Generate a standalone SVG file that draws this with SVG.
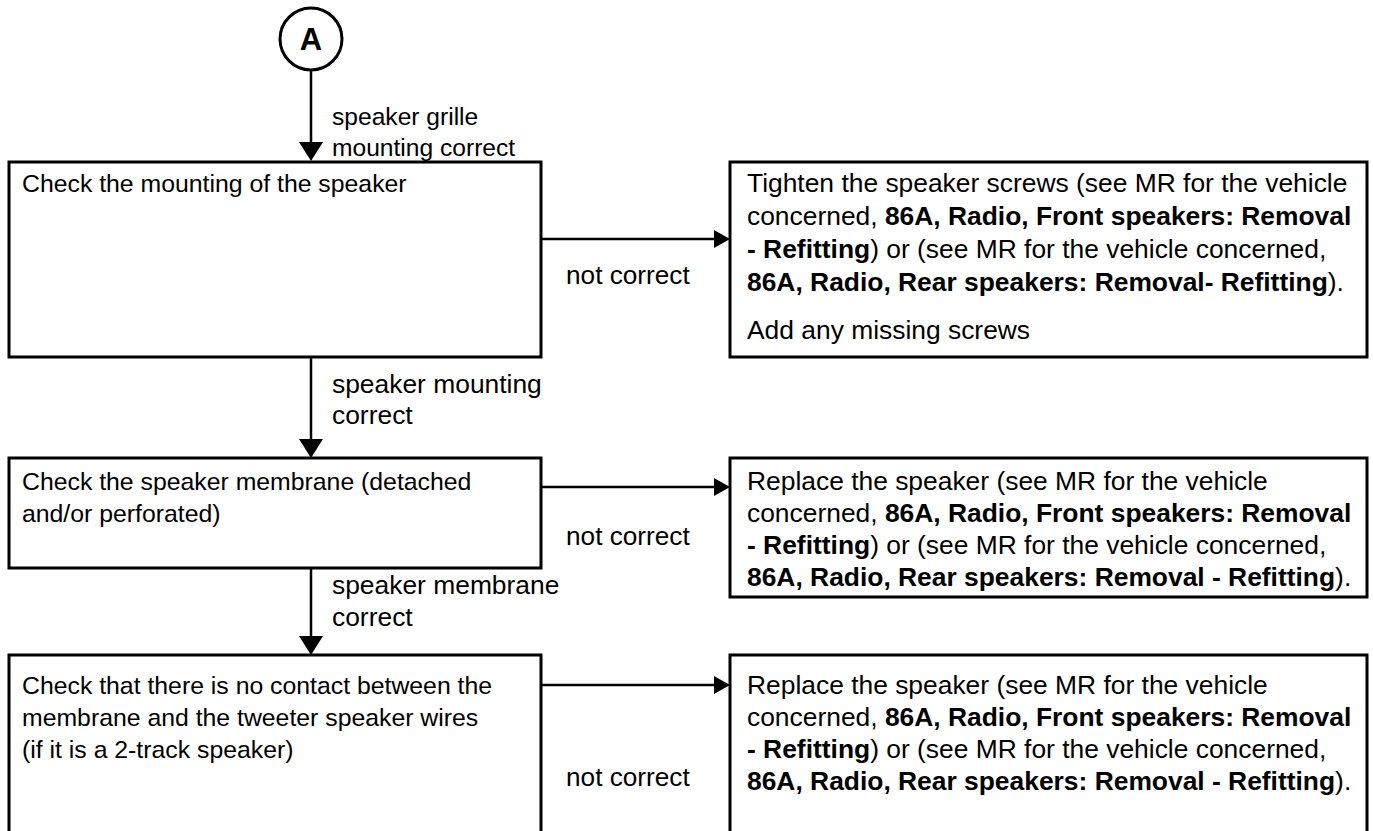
<svg xmlns="http://www.w3.org/2000/svg" width="1373" height="831" viewBox="0 0 1373 831">
  <style>
    .box { fill: #ffffff; stroke: #000000; stroke-width: 3; }
    .conn { stroke: #000000; stroke-width: 2.5; fill: none; }
    .head { fill: #000000; }
    text { font-family: "Liberation Sans", Arial, sans-serif; fill: #000000; }
    .lt { font-size: 24.8px; }
    .rt { font-size: 26.4px; }
    .lab { font-size: 24.6px; }
    .lab2 { font-size: 26.4px; }
    .nc { font-size: 26.2px; }
    .b { font-weight: bold; }
  </style>
  <rect width="1373" height="831" fill="#ffffff"/>

  <!-- start connector A -->
  <g id="start-a">
    <circle cx="311" cy="39" r="31" fill="#ffffff" stroke="#000000" stroke-width="3"/>
    <text x="311" y="50" text-anchor="middle" font-size="31" font-weight="bold">A</text>
  </g>

  <!-- connectors -->
  <g id="connectors">
    <line class="conn" x1="311" y1="70" x2="311" y2="144"/>
    <polygon class="head" points="299,142 323,142 311,161"/>
    <text class="lab" x="332" y="125">speaker grille</text>
    <text class="lab" x="332" y="156">mounting correct</text>

    <line class="conn" x1="311" y1="357" x2="311" y2="441"/>
    <polygon class="head" points="299,439 323,439 311,458"/>
    <text class="lab2" x="332" y="393">speaker mounting</text>
    <text class="lab2" x="332" y="424">correct</text>

    <line class="conn" x1="311" y1="568" x2="311" y2="638"/>
    <polygon class="head" points="299,636 323,636 311,655"/>
    <text class="lab2" x="332" y="594">speaker membrane</text>
    <text class="lab2" x="332" y="626">correct</text>

    <line class="conn" x1="541" y1="239" x2="716" y2="239"/>
    <polygon class="head" points="714,230 714,248 730,239"/>
    <text class="nc" x="566" y="284">not correct</text>

    <line class="conn" x1="541" y1="487" x2="716" y2="487"/>
    <polygon class="head" points="714,478 714,496 730,487"/>
    <text class="nc" x="566" y="545">not correct</text>

    <line class="conn" x1="541" y1="685" x2="716" y2="685"/>
    <polygon class="head" points="714,676 714,694 730,685"/>
    <text class="nc" x="566" y="786">not correct</text>
  </g>

  <!-- step 1 -->
  <g id="check-mounting">
    <rect class="box" x="9" y="162" width="532" height="195"/>
    <text class="lt" x="22" y="192">Check the mounting of the speaker</text>
  </g>
  <g id="tighten-screws">
    <rect class="box" x="730" y="162" width="637" height="195"/>
    <text class="rt" x="747" y="192">Tighten the speaker screws (see MR for the vehicle</text>
    <text class="rt" x="747" y="225">concerned, <tspan class="b">86A, Radio, Front speakers: Removal</tspan></text>
    <text class="rt" x="747" y="258"><tspan class="b">- Refitting</tspan>) or (see MR for the vehicle concerned,</text>
    <text class="rt" x="747" y="291"><tspan class="b">86A, Radio, Rear speakers: Removal- Refitting</tspan>).</text>
    <text class="rt" x="747" y="339">Add any missing screws</text>
  </g>

  <!-- step 2 -->
  <g id="check-membrane">
    <rect class="box" x="9" y="458" width="532" height="110"/>
    <text class="lt" x="22" y="490">Check the speaker membrane (detached</text>
    <text class="lt" x="22" y="522">and/or perforated)</text>
  </g>
  <g id="replace-speaker-1">
    <rect class="box" x="730" y="458" width="637" height="139"/>
    <text class="rt" x="747" y="490">Replace the speaker (see MR for the vehicle</text>
    <text class="rt" x="747" y="522">concerned, <tspan class="b">86A, Radio, Front speakers: Removal</tspan></text>
    <text class="rt" x="747" y="554"><tspan class="b">- Refitting</tspan>) or (see MR for the vehicle concerned,</text>
    <text class="rt" x="747" y="586"><tspan class="b">86A, Radio, Rear speakers: Removal - Refitting</tspan>).</text>
  </g>

  <!-- step 3 -->
  <g id="check-wires">
    <rect class="box" x="9" y="655" width="532" height="200"/>
    <text class="lt" x="22" y="694">Check that there is no contact between the</text>
    <text class="lt" x="22" y="726">membrane and the tweeter speaker wires</text>
    <text class="lt" x="22" y="758">(if it is a 2-track speaker)</text>
  </g>
  <g id="replace-speaker-2">
    <rect class="box" x="730" y="655" width="637" height="200"/>
    <text class="rt" x="747" y="694">Replace the speaker (see MR for the vehicle</text>
    <text class="rt" x="747" y="726">concerned, <tspan class="b">86A, Radio, Front speakers: Removal</tspan></text>
    <text class="rt" x="747" y="758"><tspan class="b">- Refitting</tspan>) or (see MR for the vehicle concerned,</text>
    <text class="rt" x="747" y="790"><tspan class="b">86A, Radio, Rear speakers: Removal - Refitting</tspan>).</text>
  </g>
</svg>
